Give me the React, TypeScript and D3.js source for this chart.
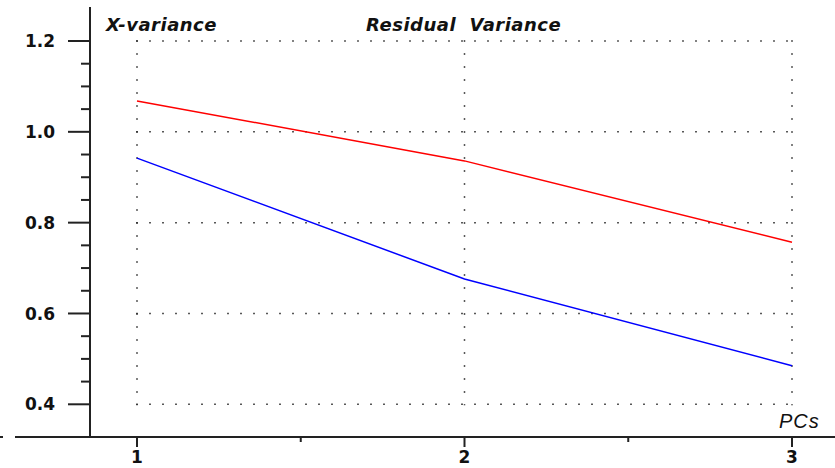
import React from "react";
import * as d3 from "d3";

const pcs = [1, 2, 3];
const xVariance = [1.068, 0.936, 0.757];
const residualVariance = [0.942, 0.676, 0.485];
const yTicks = [0.4, 0.6, 0.8, 1.0, 1.2];
const yMinorTicks = [0.45, 0.5, 0.55, 0.65, 0.7, 0.75, 0.85, 0.9, 0.95, 1.05, 1.1, 1.15];
const xMinorTicks = [1.5, 2.5];

const W = 835;
const H = 468;

export default function App() {
  const x = d3.scaleLinear().domain([1, 3]).range([137, 792]);
  const y = d3.scaleLinear().domain([0.4, 1.2]).range([404.3, 41]);
  const axisX = 90;
  const axisY = 437;
  const line = d3
    .line<number>()
    .x((_, i) => x(pcs[i]))
    .y((d) => y(d));
  const labelFont = "'DejaVu Sans', sans-serif";
  return (
    <svg
      width={W}
      height={H}
      style={{ position: "absolute", left: 0, top: 0, background: "#fff" }}
    >
      {/* grid */}
      <g stroke="#222" strokeWidth={1.5} strokeDasharray="1.5 11.5" fill="none">
        {yTicks.map((t) => (
          <line key={"h" + t} x1={x(1) - 0.75} x2={x(3) + 1} y1={y(t)} y2={y(t)} />
        ))}
        {pcs.map((p) => (
          <line key={"v" + p} x1={x(p)} x2={x(p)} y1={y(1.2) - 0.75} y2={y(0.4) + 1} />
        ))}
      </g>
      {/* axes */}
      <g stroke="#222" strokeWidth={2}>
        <line x1={axisX} x2={axisX} y1={7} y2={axisY} />
        <line x1={15} x2={W} y1={axisY} y2={axisY} />
        <line x1={0} x2={3} y1={axisY} y2={axisY} />
        {yTicks.map((t) => (
          <line key={"yt" + t} x1={68} x2={axisX} y1={y(t)} y2={y(t)} />
        ))}
        {yMinorTicks.map((t) => (
          <line key={"ym" + t} x1={81} x2={axisX} y1={y(t)} y2={y(t)} />
        ))}
        {pcs.map((p) => (
          <line key={"xt" + p} x1={x(p)} x2={x(p)} y1={axisY} y2={axisY + 10} />
        ))}
        {xMinorTicks.map((p) => (
          <line key={"xm" + p} x1={x(p)} x2={x(p)} y1={axisY} y2={axisY + 5} />
        ))}
      </g>
      {/* tick labels */}
      <g fontFamily={labelFont} fontWeight="bold" fontSize={17} fill="#111">
        {yTicks.map((t) => (
          <text key={"yl" + t} x={55} y={y(t)} dy="0.36em" textAnchor="end">
            {t.toFixed(1)}
          </text>
        ))}
        {pcs.map((p) => (
          <text key={"xl" + p} x={x(p)} y={463} textAnchor="middle">
            {p}
          </text>
        ))}
      </g>
      {/* series */}
      <path d={line(xVariance) || ""} fill="none" stroke="#ff0000" strokeWidth={1.5} />
      <path d={line(residualVariance) || ""} fill="none" stroke="#0000ff" strokeWidth={1.5} />
      {/* titles */}
      <g fontFamily={labelFont} fontWeight="bold" fontStyle="italic" fontSize={18} fill="#111" letterSpacing={0.5}>
        <text x={106} y={31}>X-variance</text>
        <text x={366} y={31} style={{ whiteSpace: "pre" }}>{"Residual  Variance"}</text>
      </g>
      <text
        x={779}
        y={428}
        fontFamily="'Liberation Sans', Arial, sans-serif"
        fontStyle="italic"
        fontSize={20}
        letterSpacing={1}
        fill="#111"
      >
        PCs
      </text>
    </svg>
  );
}
